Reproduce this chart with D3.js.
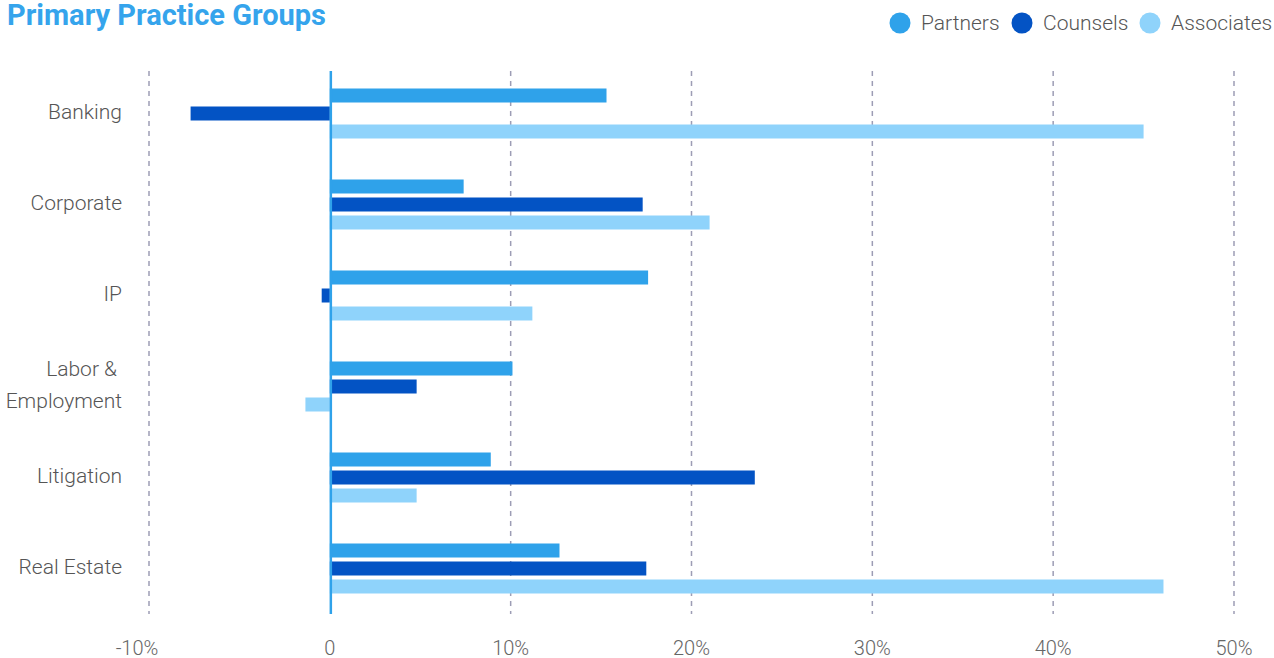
<!DOCTYPE html>
<html>
<head>
<meta charset="utf-8">
<script src="https://cdn.jsdelivr.net/npm/d3@7"></script>
<style>
  body { margin: 0; background: #fff; }
  svg { display: block; font-family: Roboto, "Noto Sans", sans-serif; }
</style>
</head>
<body>
<div id="chart"></div>
<script>
const groups = ['Banking', 'Corporate', 'IP', 'Labor & Employment', 'Litigation', 'Real Estate'];
const seriesKeys = ['Partners', 'Counsels', 'Associates'];
const partners = [15.3, 7.4, 17.6, 10.1, 8.9, 12.7];
const counsels = [-7.7, 17.3, -0.45, 4.8, 23.5, 17.5];
const associates = [45.0, 21.0, 11.2, -1.35, 4.8, 46.1];
const xTicks = [-10, 0, 10, 20, 30, 40, 50];

const width = 1274;
const height = 658;
const colors = ['#2fa2ea', '#0353c4', '#8fd3fb'];

const rows = groups.map((g, i) => ({ group: g, values: [partners[i], counsels[i], associates[i]] }));

const svg = d3.select('#chart').append('svg').attr('width', width).attr('height', height);

const x = d3.scaleLinear().domain([-10, 50]).range([149, 1234]);
const y = d3.scaleBand().domain(groups).range([68, 614]).padding(0);
const color = d3.scaleOrdinal().domain(seriesKeys).range(colors);
const yInner = d3.scaleBand().domain(seriesKeys).range([0, 50]).paddingInner(4 / 18);

// grid
svg.append('g')
  .selectAll('line')
  .data(xTicks.filter((t) => t !== 0))
  .join('line')
  .attr('x1', (d) => x(d))
  .attr('x2', (d) => x(d))
  .attr('y1', 71)
  .attr('y2', 614)
  .attr('stroke', '#9d9db5')
  .attr('stroke-width', 1.5)
  .attr('stroke-dasharray', '5,5');

// tick labels (the -10% label sits a little left of its gridline)
svg.append('g')
  .selectAll('text')
  .data(xTicks)
  .join('text')
  .attr('x', (d) => x(d) + (d < 0 ? -12 : 0))
  .attr('y', 655)
  .attr('text-anchor', 'middle')
  .attr('font-size', 20)
  .attr('font-weight', 300)
  .attr('fill', '#666')
  .text((d) => (d === 0 ? '0' : d + '%'));

// bars
const groupG = svg.append('g')
  .selectAll('g')
  .data(rows)
  .join('g')
  .attr('transform', (d) => `translate(0,${y(d.group) + y.bandwidth() / 2 - 25})`);

groupG.selectAll('rect')
  .data((d) => d.values.map((v, i) => ({ key: seriesKeys[i], value: v })))
  .join('rect')
  .attr('x', (d) => x(Math.min(0, d.value)))
  .attr('y', (d) => yInner(d.key))
  .attr('width', (d) => Math.abs(x(d.value) - x(0)))
  .attr('height', yInner.bandwidth())
  .attr('fill', (d) => color(d.key));

// zero line
svg.append('line')
  .attr('x1', x(0) + 1)
  .attr('x2', x(0) + 1)
  .attr('y1', 71)
  .attr('y2', 614)
  .attr('stroke', '#2fa2ea')
  .attr('stroke-width', 2.5);

// category labels
const labels = svg.append('g')
  .selectAll('text')
  .data(groups)
  .join('text')
  .attr('text-anchor', 'end')
  .attr('font-size', 21)
  .attr('font-weight', 300)
  .attr('fill', '#555');

labels.each(function (d) {
  const t = d3.select(this);
  const cy = y(d) + y.bandwidth() / 2;
  if (d === 'Labor & Employment') {
    t.append('tspan').attr('x', 117).attr('y', cy - 11).text('Labor &');
    t.append('tspan').attr('x', 122).attr('y', cy + 21).text('Employment');
  } else {
    t.attr('x', 122).attr('y', cy + 5).text(d);
  }
});

// title
svg.append('text')
  .attr('x', 7)
  .attr('y', 25)
  .attr('font-size', 29)
  .attr('font-weight', 700)
  .attr('fill', '#35a4ec')
  .text('Primary Practice Groups');

// legend
const legendX = [900, 1022, 1150];
const legend = svg.append('g')
  .selectAll('g')
  .data(seriesKeys)
  .join('g')
  .attr('transform', (d, i) => `translate(${legendX[i]},23)`);
legend.append('circle').attr('r', 10.5).attr('fill', (d) => color(d));
legend.append('text')
  .attr('x', 21)
  .attr('y', 7)
  .attr('font-size', 21)
  .attr('font-weight', 300)
  .attr('fill', '#555')
  .text((d) => d);
</script>
</body>
</html>
